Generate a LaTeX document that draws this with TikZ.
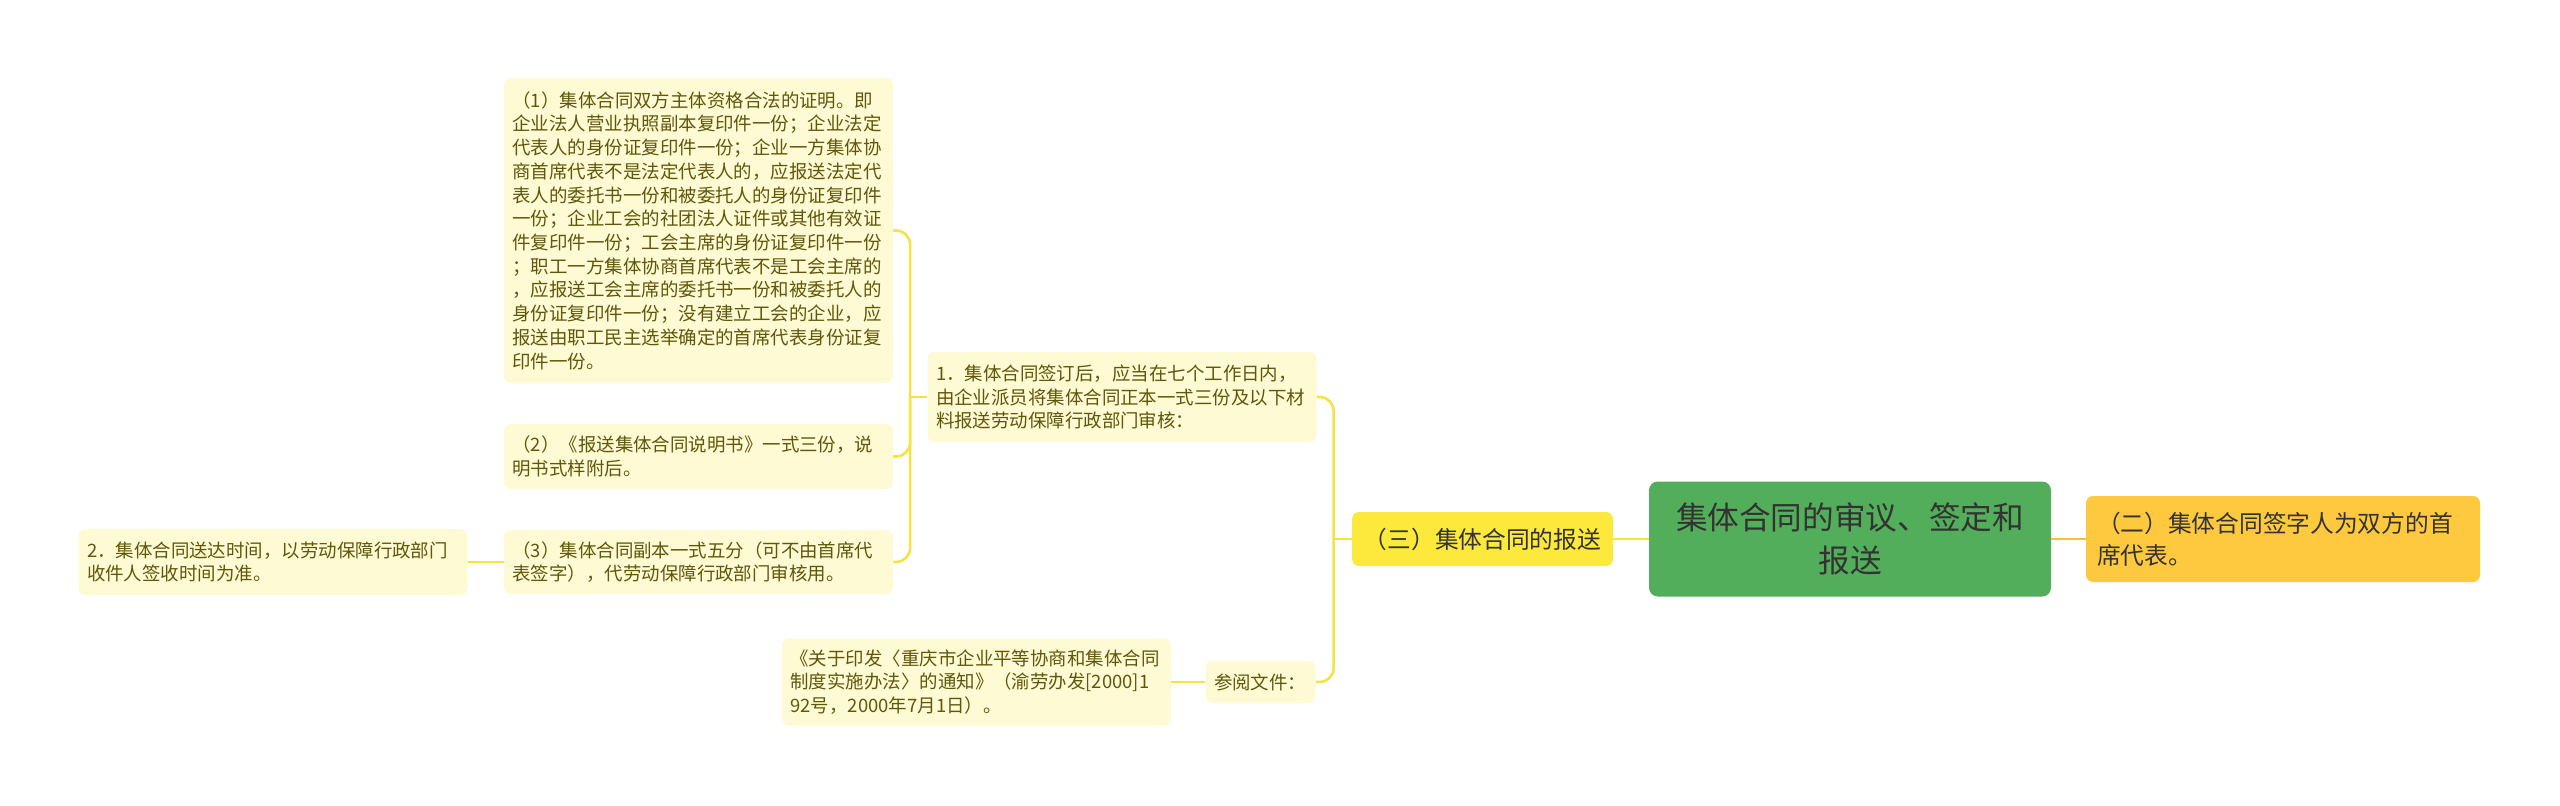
\documentclass[tikz,border=0pt]{standalone}
\usepackage{fontspec}
\newfontfamily\cjk{Noto Sans CJK SC}
\usetikzlibrary{positioning}
\definecolor{mmLeaf}{HTML}{FEFAD4}
\definecolor{mmLeafText}{HTML}{5F570A}
\definecolor{mmLink}{HTML}{F7E245}
\definecolor{mmBranch}{HTML}{FDE83C}
\definecolor{mmRoot}{HTML}{52AE5A}
\definecolor{mmSide}{HTML}{FEC93F}
\definecolor{mmSideLink}{HTML}{F6BF3C}
\definecolor{mmDark}{HTML}{333333}

\begin{document}
\begin{tikzpicture}[
      leaf/.style={fill=mmLeaf,text=mmLeafText,rounded corners=4pt,align=left,
                   text width=7.44cm,inner xsep=0.17cm,inner ysep=0pt,
                   font=\cjk\fontsize{10.5}{13.5}\selectfont},
      branch/.style={fill=mmBranch,text=mmDark,rounded corners=4pt,align=center,
                   inner sep=0pt,font=\cjk\fontsize{13.5}{18.4}\selectfont},
      side/.style={branch,fill=mmSide,align=left,text width=7.44cm,inner xsep=0.22cm},
      topic/.style={fill=mmRoot,text=mmDark,rounded corners=5pt,align=center,
                   inner sep=0pt,minimum width=8.04cm,minimum height=2.30cm,
                   font=\cjk\fontsize{18}{24.5}\selectfont},
      link/.style={draw=mmLink,line width=1.5pt},
      sidelink/.style={draw=mmSideLink,line width=1.5pt}
    ]
    \useasboundingbox (0,0) rectangle (51.2,-16.1);

    \node[topic] (topic) at (37.0,-10.78) {集体合同的审议、签定和\\报送};
    \node[side,minimum height=1.72cm] (signer) at (45.66,-10.78)
      {（二）集体合同签字人为双方的首\\席代表。};
    \node[branch,minimum width=5.22cm,minimum height=1.08cm] (report) at (29.65,-10.78)
      {（三）集体合同的报送};

    \node[leaf,minimum height=1.80cm] (submit) at (22.44,-7.94)
      {1．集体合同签订后，应当在七个工作日内，\\由企业派员将集体合同正本一式三份及以下材\\料报送劳动保障行政部门审核：};
    \node[leaf,text width=1.86cm,minimum height=0.84cm] (refs) at (25.21,-13.64) {参阅文件：};
    \node[leaf,minimum height=1.74cm] (notice) at (19.53,-13.64)
      {《关于印发〈重庆市企业平等协商和集体合同\\制度实施办法〉的通知》（渝劳办发[2000]1\\92号，2000年7月1日）。};

    \node[leaf,minimum height=6.10cm] (reqa) at (13.97,-4.61)
      {（1）集体合同双方主体资格合法的证明。即\\
       企业法人营业执照副本复印件一份；企业法定\\
       代表人的身份证复印件一份；企业一方集体协\\
       商首席代表不是法定代表人的，应报送法定代\\
       表人的委托书一份和被委托人的身份证复印件\\
       一份；企业工会的社团法人证件或其他有效证\\
       件复印件一份；工会主席的身份证复印件一份\\
       ；职工一方集体协商首席代表不是工会主席的\\
       ，应报送工会主席的委托书一份和被委托人的\\
       身份证复印件一份；没有建立工会的企业，应\\
       报送由职工民主选举确定的首席代表身份证复\\
       印件一份。};
    \node[leaf,minimum height=1.30cm] (reqb) at (13.97,-9.13)
      {（2）《报送集体合同说明书》一式三份，说\\明书式样附后。};
    \node[leaf,minimum height=1.28cm] (reqc) at (13.97,-11.24)
      {（3）集体合同副本一式五分（可不由首席代\\表签字），代劳动保障行政部门审核用。};
    \node[leaf,minimum height=1.32cm] (deliver) at (5.46,-11.24)
      {2．集体合同送达时间，以劳动保障行政部门\\收件人签收时间为准。};

    % forks where one parent splits into several children
    \coordinate[left=0.36cm of report.west] (reportfork);
    \coordinate[left=0.34cm of submit.west] (submitfork);

    \draw[link]     (topic.west) -- (report.east);
    \draw[sidelink] (topic.east) -- (signer.west);

    \draw[link] (report.west) -- (reportfork);
    \draw[link,rounded corners=8pt] (submit.east) -| (reportfork) |- (refs.east);
    \draw[link] (refs.west) -- (notice.east);

    \draw[link] (submit.west) -- (submitfork);
    \draw[link,rounded corners=8pt] (reqa.east) -| (submitfork) |- (reqc.east);
    \draw[link,rounded corners=8pt] (reqb.east) -| (submitfork);
    \draw[link] (reqc.west) -- (deliver.east);
  \end{tikzpicture}
\end{document}
